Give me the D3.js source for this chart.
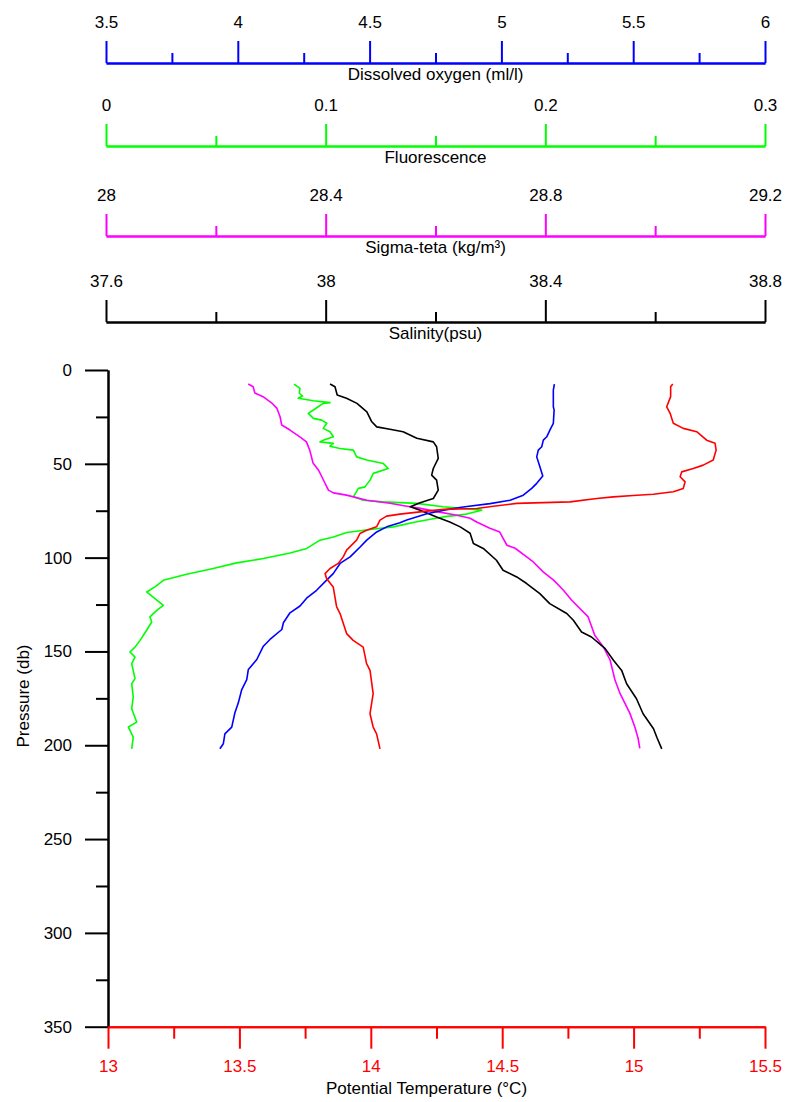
<!DOCTYPE html>
<html><head><meta charset="utf-8">
<script src="https://cdn.jsdelivr.net/npm/d3@7"></script>
<style>
body{margin:0;background:#fff}
text{font-family:"Liberation Sans",Arial,sans-serif;font-size:17px}
</style>
</head><body><svg id="c" width="785" height="1102"></svg>
<script>
// ---------- data ----------
const pressureTicks = [0,50,100,150,200,250,300,350];
const pressureMinor = [25,75,125,175,225,275,325];
const tempTicks = [13,13.5,14,14.5,15,15.5];
const tempMinor = [13.25,13.75,14.25,14.75,15.25];
const oxyTicks = [3.5,4,4.5,5,5.5,6];
const oxyMinor = [3.75,4.25,4.75,5.25,5.75];
const fluoTicks = [0,0.1,0.2,0.3];
const fluoMinor = [0.05,0.15,0.25];
const sigmaTicks = [28,28.4,28.8,29.2];
const sigmaMinor = [28.2,28.6,29.0];
const salTicks = [37.6,38,38.4,38.8];
const salMinor = [37.8,38.2,38.6];

// [pressure (db), value]
const temperature = [[7.5,15.149],[8.9,15.141],[14.2,15.141],[19.6,15.126],[23.1,15.139],[28.4,15.151],[31.1,15.189],[32.9,15.240],[37.4,15.278],[39.1,15.310],[42.7,15.314],[48,15.303],[50.7,15.265],[52.5,15.227],[54.3,15.183],[56.9,15.177],[59.6,15.196],[63.1,15.189],[64.9,15.151],[66.2,15.075],[66.9,14.999],[67.6,14.923],[68.5,14.860],[70.3,14.758],[71.1,14.555],[72.6,14.466],[73.8,14.403],[74.3,14.276],[75.6,14.187],[76.8,14.111],[77.9,14.060],[80,14.035],[83.6,14.022],[85.4,13.984],[87.1,13.959],[90.7,13.946],[96,13.908],[99.6,13.895],[103.1,13.876],[105.8,13.845],[108.5,13.826],[111.2,13.832],[115.6,13.857],[126.3,13.870],[129.8,13.883],[140.5,13.908],[144.1,13.933],[147.7,13.971],[156.5,13.984],[160.1,13.997],[172.5,14.009],[183.2,13.997],[190.3,14.009],[193.9,14.022],[201.9,14.035]];

const oxygen = [[7.5,5.201],[10.7,5.197],[19.6,5.197],[21.4,5.200],[28.4,5.197],[32,5.184],[35.6,5.172],[37.4,5.159],[40.9,5.153],[42.7,5.140],[46.3,5.134],[51.6,5.146],[56.5,5.157],[60.4,5.134],[63.1,5.115],[66.7,5.083],[69.4,5.033],[71.2,4.957],[73,4.855],[74.4,4.792],[76.6,4.717],[80,4.641],[81.4,4.615],[83.6,4.565],[86.3,4.527],[90.7,4.489],[94.3,4.464],[99.6,4.426],[103.1,4.388],[108.5,4.362],[112,4.337],[117.4,4.299],[121.6,4.261],[125.8,4.236],[129.4,4.198],[134.7,4.173],[138.3,4.167],[143.6,4.122],[147.2,4.097],[154.3,4.072],[159.6,4.040],[165,4.034],[170.3,4.015],[177.4,4.002],[182.7,3.989],[190.3,3.977],[193.9,3.951],[199.2,3.945],[201.9,3.932]];

const fluorescence = [[7.5,0.0856],[9.8,0.0883],[12.4,0.0880],[13.9,0.0895],[15.1,0.0875],[16.4,0.0944],[17.4,0.1020],[17.8,0.0989],[19.6,0.0966],[21.3,0.0944],[23.1,0.0921],[25.8,0.0944],[26.7,0.0982],[28.4,0.1005],[31.1,0.0989],[32.9,0.1020],[35.6,0.1035],[37.4,0.0989],[38.3,0.0974],[39.1,0.1035],[40.6,0.1020],[41.8,0.1065],[42.7,0.1126],[46.3,0.1141],[48,0.1187],[49.8,0.1262],[52.5,0.1285],[55.1,0.1217],[58.7,0.1202],[62.3,0.1179],[63.1,0.1149],[67.6,0.1126],[69.4,0.1171],[70.3,0.1262],[71.1,0.1414],[72.9,0.1535],[74.7,0.1710],[76.8,0.1642],[78.3,0.1535],[80.9,0.1414],[83.6,0.1308],[85,0.1202],[86.6,0.1096],[89,0.1035],[90.7,0.0974],[95.1,0.0914],[97.5,0.0838],[100.5,0.0716],[102.8,0.0595],[105.8,0.0488],[108.9,0.0367],[112.1,0.0261],[115.6,0.0223],[118.3,0.0185],[121.8,0.0223],[125.4,0.0261],[128.1,0.0231],[131.6,0.0200],[134.3,0.0208],[138.7,0.0185],[144.1,0.0155],[147.7,0.0132],[150.3,0.0109],[153,0.0132],[156.5,0.0117],[164.5,0.0132],[167.2,0.0117],[174.3,0.0124],[180.5,0.0117],[187.7,0.0140],[190.3,0.0102],[195.7,0.0124],[201.9,0.0117]];

const sigmaTheta = [[7.5,28.259],[8.9,28.268],[12.3,28.271],[14.2,28.286],[17.6,28.302],[20.3,28.311],[24.9,28.317],[29.3,28.320],[32,28.335],[35.6,28.353],[38.3,28.365],[42.7,28.371],[49.6,28.377],[53.4,28.387],[56.9,28.393],[64,28.405],[65.5,28.414],[66.7,28.438],[69.4,28.475],[71,28.517],[72.6,28.548],[73.6,28.570],[75.6,28.605],[77.4,28.639],[79,28.663],[81,28.675],[84.3,28.699],[86.4,28.717],[93.4,28.730],[95,28.745],[99.6,28.766],[102.3,28.778],[107.6,28.796],[112,28.815],[117.4,28.833],[122.7,28.848],[131.6,28.878],[141.4,28.890],[147.7,28.906],[154.7,28.918],[165.4,28.927],[172.4,28.936],[183,28.954],[190.3,28.963],[196.4,28.969],[201.7,28.972]];

const salinity = [[7.5,38.008],[8.9,38.017],[13.3,38.021],[15.1,38.038],[17.8,38.057],[22.3,38.075],[27.6,38.084],[30.3,38.093],[31.6,38.117],[32.9,38.141],[36.4,38.166],[38.3,38.196],[40.9,38.202],[47.1,38.205],[52.5,38.196],[56,38.193],[58.7,38.202],[64,38.205],[68.5,38.196],[70.8,38.172],[72.9,38.154],[74.7,38.172],[78.3,38.202],[81,38.226],[83.6,38.245],[87,38.263],[92.5,38.269],[95.1,38.287],[101.4,38.311],[106.7,38.323],[110.3,38.348],[113.8,38.366],[119.2,38.390],[124.5,38.408],[129.8,38.439],[133.4,38.451],[139.6,38.466],[142.3,38.484],[148.5,38.509],[154.7,38.524],[160.1,38.539],[167.2,38.548],[175.2,38.566],[183.2,38.578],[191.2,38.597],[195.7,38.603],[201.9,38.612]];

// ---------- layout ----------
const svg = d3.select("#c");
const plotLeft = 108, plotRight = 765, plotTop = 370, plotBottom = 1026.7;
const topLeft = 106;
const FONT = '"Liberation Sans",Arial,sans-serif';

const y = d3.scaleLinear().domain([0,350]).range([plotTop, plotBottom]);
const xT = d3.scaleLinear().domain([13,15.5]).range([plotLeft, plotRight]);

const topAxes = [
  {scale: d3.scaleLinear().domain([3.5,6]).range([topLeft, plotRight]), ticks: oxyTicks, minor: oxyMinor, color:"#0000ff", lineY:63, title:"Dissolved oxygen (ml/l)", data: oxygen},
  {scale: d3.scaleLinear().domain([0,0.3]).range([topLeft, plotRight]), ticks: fluoTicks, minor: fluoMinor, color:"#00ff00", lineY:146, title:"Fluorescence", data: fluorescence},
  {scale: d3.scaleLinear().domain([28,29.2]).range([topLeft, plotRight]), ticks: sigmaTicks, minor: sigmaMinor, color:"#ff00ff", lineY:236, title:"Sigma-teta (kg/m³)", data: sigmaTheta},
  {scale: d3.scaleLinear().domain([37.6,38.8]).range([topLeft, plotRight]), ticks: salTicks, minor: salMinor, color:"#000000", lineY:322, title:"Salinity(psu)", data: salinity}
];

function styleAxis(g, color){
  g.selectAll("path.domain").attr("stroke", color).attr("stroke-width", 2);
  g.selectAll(".tick line").attr("stroke", color).attr("stroke-width", 2);
  g.selectAll("text").style("font-family", FONT).style("font-size","17px");
}

topAxes.forEach(a => {
  const gMinor = svg.append("g").attr("transform", `translate(0,${a.lineY})`)
    .call(d3.axisTop(a.scale).tickValues(a.minor).tickSize(10).tickSizeOuter(0).tickFormat(""));
  styleAxis(gMinor, a.color);
  const gMajor = svg.append("g").attr("transform", `translate(0,${a.lineY})`)
    .call(d3.axisTop(a.scale).tickValues(a.ticks).tickSize(22).tickSizeOuter(0).tickPadding(13.5).tickFormat(d3.format("~g")));
  styleAxis(gMajor, a.color);
  gMajor.selectAll("text").attr("fill", "#000");
  svg.append("text").attr("x", (topLeft+plotRight)/2).attr("y", a.lineY + 11).attr("dy","0.35em")
    .attr("text-anchor","middle").attr("fill","#000").text(a.title);
});

// left axis
const gYMinor = svg.append("g").attr("transform", `translate(${plotLeft},0)`)
  .call(d3.axisLeft(y).tickValues(pressureMinor).tickSize(12).tickSizeOuter(0).tickFormat(""));
styleAxis(gYMinor, "#000");
const gY = svg.append("g").attr("transform", `translate(${plotLeft},0)`)
  .call(d3.axisLeft(y).tickValues(pressureTicks).tickSize(23).tickSizeOuter(0).tickPadding(13));
styleAxis(gY, "#000");
gY.selectAll("text").attr("fill","#000");
svg.append("text").attr("transform", `translate(23,696) rotate(-90)`).attr("text-anchor","middle")
  .attr("dy","0.35em").attr("fill","#000").text("Pressure (db)");

// bottom axis
const gXMinor = svg.append("g").attr("transform", `translate(0,${plotBottom})`)
  .call(d3.axisBottom(xT).tickValues(tempMinor).tickSize(12).tickSizeOuter(0).tickFormat(""));
styleAxis(gXMinor, "#ff0000");
const gX = svg.append("g").attr("transform", `translate(0,${plotBottom})`)
  .call(d3.axisBottom(xT).tickValues(tempTicks).tickSize(22).tickSizeOuter(0).tickPadding(11).tickFormat(d3.format("~g")));
styleAxis(gX, "#ff0000");
gX.selectAll("text").attr("fill","#ff0000");
svg.append("text").attr("x", (plotLeft+plotRight)/2 - 10).attr("y", 1088).attr("dy","0.35em")
  .attr("text-anchor","middle").attr("fill","#000").text("Potential Temperature (°C)");

// profiles
const curves = [
  {data: temperature, x: xT, color:"#ff0000"},
  ...topAxes.map(a => ({data: a.data, x: a.scale, color: a.color}))
];
const order = [2,3,4,1,0];
order.forEach(i => {
  const c = curves[i];
  svg.append("path").datum(c.data)
    .attr("fill","none").attr("stroke", c.color).attr("stroke-width", 1.6)
    .attr("stroke-linejoin","round")
    .attr("d", d3.line().x(d => c.x(d[1])).y(d => y(d[0])));
});
</script>
</body></html>
